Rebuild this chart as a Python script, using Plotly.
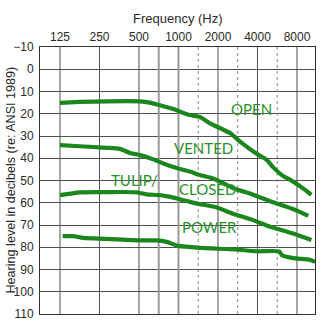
import math
import plotly.graph_objects as go

# Audiogram frequency axis (Hz) and hearing-level axis (dB HL)
FREQ_TICKS = [125, 250, 500, 1000, 2000, 4000, 8000]
FREQ_LABELS = ["125", "250", "500", "1000", "2000", "4000", "8000"]
DB_TICKS = list(range(-10, 111, 10))
DB_LABELS = ["\u221210"] + [str(v) for v in range(0, 111, 10)]

# Vertical grid lines
GRID_OCTAVE = [125, 250, 500, 2000, 4000, 8000]
GRID_LIGHT = [707, 1000]
GRID_DASHED = [1414, 2828, 5657]

# Fitting ranges by earmold / hearing-aid style
OPEN_FREQ = [125, 177, 283, 510, 606, 723, 900, 1220, 1450, 1740, 2470, 3030, 3940, 4720, 5280, 6270, 7060, 8450, 10300]
OPEN_DB = [15.1, 14.7, 14.4, 14.4, 15.0, 16.2, 17.8, 20.6, 21.4, 24.3, 28.7, 33.1, 38.0, 40.8, 44.1, 48.0, 49.6, 52.6, 56.4]

VENTED_FREQ = [125, 177, 283, 358, 427, 510, 642, 812, 1000, 1220, 1450, 1740, 1960, 2620, 3710, 5000, 7460, 9750]
VENTED_DB = [34.1, 34.6, 35.3, 35.8, 37.6, 38.6, 40.5, 42.9, 44.6, 46.0, 47.5, 48.7, 49.8, 53.5, 56.4, 59.3, 62.8, 65.9]

CLOSED_FREQ = [125, 177, 283, 480, 571, 723, 914, 1220, 1450, 1960, 2600, 3710, 4980, 5620, 7460, 10300]
CLOSED_DB = [56.6, 55.3, 55.2, 55.3, 56.2, 56.6, 57.7, 59.6, 60.6, 62.1, 64.9, 67.8, 70.8, 71.7, 73.8, 76.7]

POWER_FREQ = [131, 158, 188, 283, 510, 682, 812, 1000, 1500, 2700, 3940, 5850, 6150, 7500, 10050, 11000]
POWER_DB = [75.0, 75.0, 75.8, 76.2, 76.9, 76.9, 77.6, 79.4, 80.3, 81.0, 81.8, 81.9, 83.6, 84.9, 85.6, 86.6]

# Curve labels: text, frequency (Hz), level (dB)
LABELS = [
    ("OPEN", 3580, 17.7),
    ("VENTED", 1540, 35.3),
    ("TULIP/", 466, 49.9),
    ("CLOSED", 1650, 53.9),
    ("POWER", 1720, 71.0),
]

GREEN = "#1a861c"
TEXT_GREEN = "#2a912a"
AXIS_FONT = dict(family="Liberation Sans, Arial, sans-serif", size=12, color="#2a2a2a")


def vlines(freqs):
    xs, ys = [], []
    for f in freqs:
        xs += [f, f, None]
        ys += [-10, 110, None]
    return xs, ys


fig = go.Figure()

for freqs, color, width, dash in [
    (GRID_OCTAVE, "#505050", 1, "solid"),
    (GRID_LIGHT, "#9a9a9a", 2, "solid"),
    (GRID_DASHED, "#8a8a8a", 1, "3px,3px"),
]:
    gx, gy = vlines(freqs)
    fig.add_trace(go.Scatter(x=gx, y=gy, mode="lines", hoverinfo="skip",
                             line=dict(color=color, width=width, dash=dash),
                             showlegend=False))

for fx, fy in [(OPEN_FREQ, OPEN_DB), (VENTED_FREQ, VENTED_DB),
               (CLOSED_FREQ, CLOSED_DB), (POWER_FREQ, POWER_DB)]:
    fig.add_trace(go.Scatter(x=fx, y=fy, mode="lines",
                             line=dict(color=GREEN, width=4.2, shape="spline", smoothing=0.6),
                             showlegend=False))

annotations = []
for text, f, db in LABELS:
    annotations.append(dict(x=math.log10(f), y=db, xref="x", yref="y", text=text,
                            showarrow=False, xanchor="center", yanchor="middle",
                            font=dict(family="Lato, Open Sans, sans-serif", size=15,
                                      color=TEXT_GREEN)))

annotations.append(dict(x=0.5, y=1, xref="paper", yref="paper", text="Frequency (Hz)",
                        showarrow=False, xanchor="center", yanchor="middle", yshift=29,
                        font=dict(family="Liberation Sans, Arial, sans-serif", size=13,
                                  color="#2a2a2a")))
annotations.append(dict(x=0, y=0.5, xref="paper", yref="paper",
                        text="Hearing level in decibels (re: ANSI 1989)",
                        showarrow=False, xanchor="center", yanchor="middle", xshift=-30,
                        textangle=-90,
                        font=dict(family="Liberation Sans, Arial, sans-serif", size=12.6,
                                  color="#2a2a2a")))

fig.update_layout(
    width=329, height=333,
    margin=dict(l=40, r=14, t=47, b=14),
    paper_bgcolor="white", plot_bgcolor="white",
    annotations=annotations,
    xaxis=dict(type="log", side="top", range=[1.9446, 4.0404],
               tickvals=FREQ_TICKS, ticktext=FREQ_LABELS, tickfont=AXIS_FONT,
               ticks="",
               showgrid=False, zeroline=False,
               showline=True, mirror=True, linecolor="#333333", linewidth=1),
    yaxis=dict(range=[110, -10], tickvals=DB_TICKS, ticktext=DB_LABELS, tickfont=AXIS_FONT,
               ticks="outside", ticklen=3, tickcolor="rgba(0,0,0,0)",
               showgrid=True, gridcolor="#505050", gridwidth=1, zeroline=False,
               showline=True, mirror=True, linecolor="#333333", linewidth=1),
)

fig.write_html("out.html")
